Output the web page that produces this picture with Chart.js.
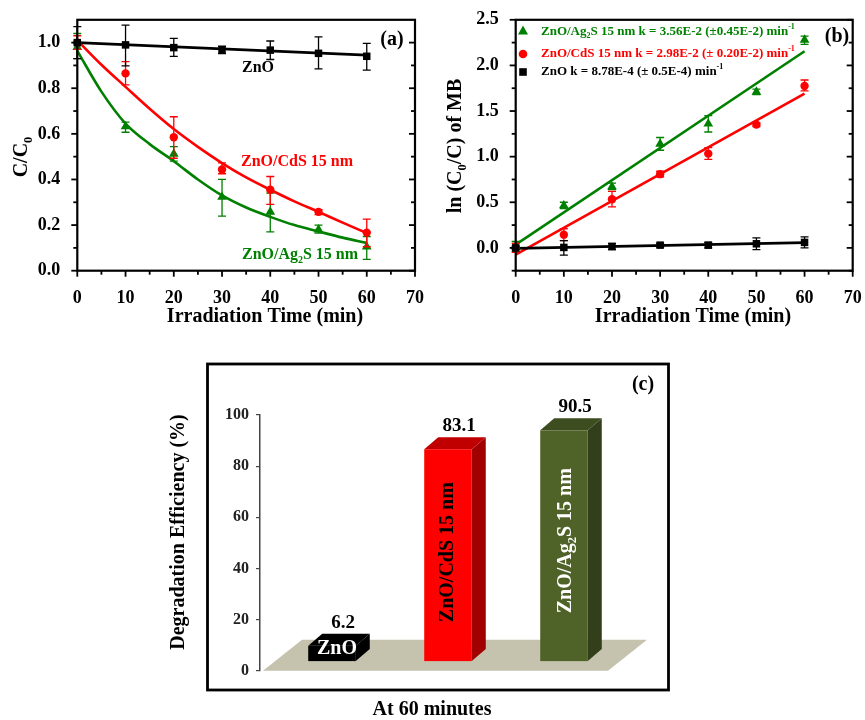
<!DOCTYPE html>
<html>
<head>
<meta charset="utf-8">
<title>MB photodegradation</title>
<script src="https://cdn.jsdelivr.net/npm/chart.js@4.4.1/dist/chart.umd.min.js"></script>
<style>
    html, body { margin: 0; padding: 0; background: #fff; }
    #wrap { position: relative; width: 865px; height: 720px; overflow: hidden; }
    #wrap canvas { position: absolute; left: 0; top: 0; }
</style>
</head>
<body>
<div id="wrap">
    <canvas id="chartA" width="865" height="720"></canvas>
    <canvas id="chartB" width="900" height="720"></canvas>
    <canvas id="chartC" width="865" height="720"></canvas>
</div>
<script>
// ============================================
// DATA
// ============================================

const timeMin = [0, 10, 20, 30, 40, 50, 60];

// (a) C/C0 with error bar ends
const ratioZnO = [1.0, 0.99, 0.978, 0.968, 0.967, 0.953, 0.94];
const ratioZnOLo = [0.93, 0.898, 0.94, 0.952, 0.926, 0.885, 0.879];
const ratioZnOHi = [1.07, 1.077, 1.019, 0.984, 1.007, 1.025, 0.997];

const ratioCdS = [1.0, 0.865, 0.585, 0.444, 0.355, 0.258, 0.167];
const ratioCdSLo = [0.97, 0.815, 0.493, 0.425, 0.291, 0.246, 0.105];
const ratioCdSHi = [1.03, 0.917, 0.675, 0.473, 0.413, 0.268, 0.226];

const ratioAg2S = [0.98, 0.632, 0.512, 0.323, 0.258, 0.18, 0.105];
const ratioAg2SLo = [0.93, 0.607, 0.48, 0.239, 0.17, 0.165, 0.05];
const ratioAg2SHi = [1.04, 0.651, 0.544, 0.40, 0.34, 0.20, 0.15];

// (a) fitted curves
const fitTimeA = [0, 5, 10, 15, 20, 25, 30, 35, 40, 45, 50, 55, 60];
const fitCdSA = [1.01, 0.903, 0.806, 0.71, 0.621, 0.543, 0.472, 0.409, 0.355, 0.304, 0.258, 0.211, 0.165];
const fitAg2SA = [0.964, 0.785, 0.645, 0.555, 0.48, 0.40, 0.33, 0.277, 0.236, 0.2, 0.172, 0.145, 0.122];
const fitLineTime = [0, 60];
const fitZnOA = [1.0, 0.945];

// (b) ln(C0/C) with error bar ends
const lnAg2S = [0.02, 0.464, 0.67, 1.14, 1.36, 1.71, 2.28];
const lnAg2SLo = [-0.04, 0.43, 0.64, 1.07, 1.27, 1.68, 2.23];
const lnAg2SHi = [0.07, 0.50, 0.71, 1.21, 1.45, 1.74, 2.32];

const lnCdS = [0.0, 0.145, 0.533, 0.808, 1.033, 1.351, 1.775];
const lnCdSLo = [-0.05, 0.08, 0.45, 0.78, 0.97, 1.33, 1.72];
const lnCdSHi = [0.05, 0.21, 0.62, 0.84, 1.10, 1.37, 1.84];

const lnZnO = [0.0, 0.005, 0.015, 0.03, 0.03, 0.045, 0.06];
const lnZnOLo = [-0.02, -0.08, -0.02, 0.01, 0.0, -0.02, 0.0];
const lnZnOHi = [0.02, 0.08, 0.05, 0.05, 0.06, 0.11, 0.12];

// (b) linear fits
const fitAg2SB = [0.036, 2.155];
const fitCdSB = [-0.075, 1.69];
const fitZnOB = [-0.005, 0.058];

// (c) degradation efficiency at 60 min
const sampleNames = ["ZnO", "ZnO/CdS 15 nm", "ZnO/Ag2S 15 nm"];
const efficiency = [6.2, 83.1, 90.5];

// tick labels
const xTicks = [0, 10, 20, 30, 40, 50, 60, 70];
const yTicksA = [0, 0.2, 0.4, 0.6, 0.8, 1.0];
const yTicksB = [0, 0.5, 1.0, 1.5, 2.0, 2.5];
const yTicksC = [0, 20, 40, 60, 80, 100];

// ============================================
// HELPERS
// ============================================

const SERIF = '"Liberation Serif", "Times New Roman", serif';
const GREEN = "#008000";
const RED = "#ff0000";

function boldFont(size) {
    return "bold " + size + "px " + SERIF;
}

function toPoints(xs, ys) {
    return xs.map((x, i) => ({ x: x, y: ys[i] }));
}

// parts: [text, 0 normal | 1 subscript | 2 superscript]
function richText(ctx, parts, x, y, size, align, color, rot) {
    ctx.save();
    ctx.translate(x, y);
    if (rot) ctx.rotate(rot);
    let total = 0;
    const widths = parts.map((p) => {
        ctx.font = boldFont(p[1] ? size * 0.62 : size);
        const w = ctx.measureText(p[0]).width;
        total += w;
        return w;
    });
    let cx = align === "center" ? -total / 2 : align === "right" ? -total : 0;
    ctx.textAlign = "left";
    ctx.textBaseline = "middle";
    ctx.fillStyle = color;
    parts.forEach((p, i) => {
        ctx.font = boldFont(p[1] ? size * 0.62 : size);
        const dy = p[1] === 1 ? size * 0.32 : p[1] === 2 ? -size * 0.36 : 0;
        ctx.fillText(p[0], cx, dy);
        cx += widths[i];
    });
    ctx.restore();
}

// error bars drawn just before each marker dataset
const errorBars = {
    id: "errorBars",
    beforeDatasetDraw(chart, args) {
        const ds = chart.data.datasets[args.index];
        if (!ds.errLo) return;
        const ctx = chart.ctx;
        const xs = chart.scales.x;
        const ys = chart.scales.y;
        ctx.save();
        ctx.strokeStyle = ds.borderColor;
        ctx.lineWidth = 1.3;
        ds.data.forEach((p, i) => {
            const px = xs.getPixelForValue(p.x);
            const lo = ys.getPixelForValue(ds.errLo[i]);
            const hi = ys.getPixelForValue(ds.errHi[i]);
            ctx.beginPath();
            ctx.moveTo(px, lo); ctx.lineTo(px, hi);
            ctx.moveTo(px - 4, lo); ctx.lineTo(px + 4, lo);
            ctx.moveTo(px - 4, hi); ctx.lineTo(px + 4, hi);
            ctx.stroke();
        });
        ctx.restore();
    }
};

// frame, inward/outward ticks and free text of panels (a) and (b)
const frameTicks = {
    id: "frameTicks",
    afterDraw(chart, args, opts) {
        const ctx = chart.ctx;
        const a = chart.chartArea;
        const xs = chart.scales.x;
        const ys = chart.scales.y;
        ctx.save();
        ctx.strokeStyle = "#000";
        ctx.lineWidth = 2.2;
        ctx.strokeRect(a.left, a.top, a.right - a.left, a.bottom - a.top);
        ctx.lineWidth = 1.8;
        const seg = (x1, y1, x2, y2) => {
            ctx.beginPath(); ctx.moveTo(x1, y1); ctx.lineTo(x2, y2); ctx.stroke();
        };
        opts.xMajor.forEach((v) => { const p = xs.getPixelForValue(v); seg(p, a.bottom, p, a.bottom + 6); });
        opts.xMinor.forEach((v) => { const p = xs.getPixelForValue(v); seg(p, a.bottom, p, a.bottom + 4); });
        opts.yMajor.forEach((v) => {
            const p = ys.getPixelForValue(v);
            seg(a.left - 6, p, a.left, p);
            seg(a.right - 6, p, a.right, p);
        });
        opts.yMinor.forEach((v) => {
            const p = ys.getPixelForValue(v);
            seg(a.left - 4, p, a.left, p);
            seg(a.right - 4, p, a.right, p);
        });

        (opts.markers || []).forEach((m) => {
            ctx.fillStyle = m.color;
            ctx.beginPath();
            if (m.shape === "triangle") {
                ctx.moveTo(m.x, m.y - 5.5); ctx.lineTo(m.x + 5, m.y + 3.5); ctx.lineTo(m.x - 5, m.y + 3.5);
            } else if (m.shape === "circle") {
                ctx.arc(m.x, m.y, 4.3, 0, Math.PI * 2);
            } else {
                ctx.rect(m.x - 3.8, m.y - 3.8, 7.6, 7.6);
            }
            ctx.closePath();
            ctx.fill();
        });

        opts.notes.forEach((n) => richText(ctx, n.parts, n.x, n.y, n.size, n.align, n.color, n.rot));
        ctx.restore();
    }
};

function axisScales(yMin, yMax, yTicks, digits) {
    return {
        x: {
            type: "linear", min: 0, max: 70,
            afterBuildTicks: (s) => { s.ticks = xTicks.map((v) => ({ value: v })); },
            afterFit: (s) => { s.height = 50; },
            ticks: { font: { family: SERIF, size: 18, weight: "bold" }, color: "#000", padding: 9, maxRotation: 0 },
            grid: { display: false },
            border: { display: false }
        },
        y: {
            type: "linear", min: yMin, max: yMax,
            afterBuildTicks: (s) => { s.ticks = yTicks.map((v) => ({ value: v })); },
            afterFit: (s) => { s.width = 60; },
            ticks: {
                font: { family: SERIF, size: 18, weight: "bold" }, color: "#000", padding: 9,
                callback: (v) => Number(v).toFixed(digits)
            },
            grid: { display: false },
            border: { display: false }
        }
    };
}

function markerSet(label, ys, lo, hi, color, style, radius) {
    return {
        label: label, data: toPoints(timeMin, ys), errLo: lo, errHi: hi,
        borderColor: color, backgroundColor: color, pointStyle: style,
        pointRadius: radius, pointBorderWidth: 0, showLine: false, clip: false, order: 1
    };
}

function fitSet(label, xs, ys, color, curved) {
    return {
        label: label, data: toPoints(xs, ys), borderColor: color, borderWidth: 2.6,
        pointRadius: 0, showLine: true, fill: false, clip: false, order: 2,
        cubicInterpolationMode: curved ? "monotone" : "default"
    };
}

const baseOptions = {
    responsive: false,
    animation: false,
    events: []
};

// ============================================
// PANEL (a)
// ============================================

new Chart(document.getElementById("chartA"), {
    type: "scatter",
    data: {
        datasets: [
            fitSet("ZnO fit", fitLineTime, fitZnOA, "#000", false),
            fitSet("ZnO/CdS fit", fitTimeA, fitCdSA, RED, true),
            fitSet("ZnO/Ag2S fit", fitTimeA, fitAg2SA, GREEN, true),
            markerSet("ZnO", ratioZnO, ratioZnOLo, ratioZnOHi, "#000", "rect", 5.3),
            markerSet("ZnO/CdS 15 nm", ratioCdS, ratioCdSLo, ratioCdSHi, RED, "circle", 4.2),
            markerSet("ZnO/Ag2S 15 nm", ratioAg2S, ratioAg2SLo, ratioAg2SHi, GREEN, "triangle", 5.6)
        ]
    },
    options: Object.assign({}, baseOptions, {
        layout: { padding: { left: 17.3, right: 450, top: 18.3, bottom: 399.3 } },
        scales: axisScales(0, 1.1, yTicksA, 1),
        plugins: {
            legend: { display: false },
            tooltip: { enabled: false },
            frameTicks: {
                xMajor: xTicks, xMinor: [5, 15, 25, 35, 45, 55, 65],
                yMajor: yTicksA, yMinor: [0.1, 0.3, 0.5, 0.7, 0.9],
                notes: [
                    { parts: [["(a)", 0]], x: 392, y: 40, size: 20, align: "center", color: "#000" },
                    { parts: [["ZnO", 0]], x: 258, y: 68, size: 16, align: "center", color: "#000" },
                    { parts: [["ZnO/CdS 15 nm", 0]], x: 297, y: 162, size: 16, align: "center", color: RED },
                    { parts: [["ZnO/Ag", 0], ["2", 1], ["S 15 nm", 0]], x: 300, y: 255, size: 16, align: "center", color: GREEN },
                    { parts: [["Irradiation Time (min)", 0]], x: 265, y: 317, size: 20, align: "center", color: "#000" },
                    { parts: [["C/C", 0], ["0", 1]], x: 22, y: 157, size: 20, align: "center", color: "#000", rot: -Math.PI / 2 }
                ]
            }
        }
    }),
    plugins: [errorBars, frameTicks]
});

// ============================================
// PANEL (b)  (canvas a bit wider than the page so the last tick label fits)
// ============================================

new Chart(document.getElementById("chartB"), {
    type: "scatter",
    data: {
        datasets: [
            fitSet("ZnO fit", fitLineTime, fitZnOB, "#000", false),
            fitSet("ZnO/CdS fit", fitLineTime, fitCdSB, RED, false),
            fitSet("ZnO/Ag2S fit", fitLineTime, fitAg2SB, GREEN, false),
            markerSet("ZnO", lnZnO, lnZnOLo, lnZnOHi, "#000", "rect", 5.3),
            markerSet("ZnO/CdS 15 nm", lnCdS, lnCdSLo, lnCdSHi, RED, "circle", 4.2),
            markerSet("ZnO/Ag2S 15 nm", lnAg2S, lnAg2SLo, lnAg2SHi, GREEN, "triangle", 5.6)
        ]
    },
    options: Object.assign({}, baseOptions, {
        layout: { padding: { left: 455.7, right: 47.3, top: 18.3, bottom: 399.3 } },
        scales: axisScales(-0.25, 2.5, yTicksB, 1),
        plugins: {
            legend: { display: false },
            tooltip: { enabled: false },
            frameTicks: {
                xMajor: xTicks, xMinor: [5, 15, 25, 35, 45, 55, 65],
                yMajor: yTicksB, yMinor: [-0.25, 0.25, 0.75, 1.25, 1.75, 2.25],
                markers: [
                    { shape: "triangle", x: 523, y: 31, color: GREEN },
                    { shape: "circle", x: 523, y: 54, color: RED },
                    { shape: "square", x: 523, y: 72, color: "#000" }
                ],
                notes: [
                    { parts: [["(b)", 0]], x: 837, y: 37, size: 20, align: "center", color: "#000" },
                    { parts: [["ZnO/Ag", 0], ["2", 1], ["S 15 nm k = 3.56E-2 (\u00b10.45E-2) min", 0], ["-1", 2]], x: 541, y: 32, size: 13, align: "left", color: GREEN },
                    { parts: [["ZnO/CdS 15 nm k = 2.98E-2 (\u00b1 0.20E-2) min", 0], ["-1", 2]], x: 541, y: 54, size: 13, align: "left", color: RED },
                    { parts: [["ZnO k = 8.78E-4 (\u00b1 0.5E-4) min", 0], ["-1", 2]], x: 541, y: 72, size: 13, align: "left", color: "#000" },
                    { parts: [["Irradiation Time (min)", 0]], x: 693, y: 317, size: 20, align: "center", color: "#000" },
                    { parts: [["ln (C", 0], ["0", 1], ["/C) of MB", 0]], x: 456, y: 146, size: 20, align: "center", color: "#000", rot: -Math.PI / 2 }
                ]
            }
        }
    }),
    plugins: [errorBars, frameTicks]
});

// ============================================
// PANEL (c) : 3D-looking bars
// ============================================

const frontColors = ["#000000", "#ff0000", "#4f6228"];
const topColors = ["#000000", "#c00000", "#3e4d1f"];
const sideColors = ["#000000", "#a00000", "#333f1a"];

const DEPTH = { fx: 14, fy: -9, dx: 14, dy: -12, floorX: 39, floorY: -31 };

const bars3d = {
    id: "bars3d",
    beforeDatasetsDraw(chart) {
        const ctx = chart.ctx;
        const a = chart.chartArea;
        const base = chart.scales.y.getPixelForValue(0);
        ctx.save();
        ctx.fillStyle = "#c5c2ae";
        ctx.beginPath();
        ctx.moveTo(a.left + 3, base);
        ctx.lineTo(a.right, base);
        ctx.lineTo(a.right + DEPTH.floorX, base + DEPTH.floorY);
        ctx.lineTo(a.left + 3 + DEPTH.floorX, base + DEPTH.floorY);
        ctx.closePath();
        ctx.fill();
        ctx.restore();
    },
    afterDatasetsDraw(chart) {
        const ctx = chart.ctx;
        const meta = chart.getDatasetMeta(0);
        ctx.save();
        meta.data.forEach((el, i) => {
            const p = el.getProps(["x", "y", "base", "width"], true);
            const l = p.x - p.width / 2 + DEPTH.fx;
            const r = p.x + p.width / 2 + DEPTH.fx;
            const t = p.y + DEPTH.fy;
            const b = p.base + DEPTH.fy;
            // side
            ctx.fillStyle = sideColors[i];
            ctx.beginPath();
            ctx.moveTo(r, t); ctx.lineTo(r + DEPTH.dx, t + DEPTH.dy);
            ctx.lineTo(r + DEPTH.dx, b + DEPTH.dy); ctx.lineTo(r, b);
            ctx.closePath(); ctx.fill();
            // top
            ctx.fillStyle = topColors[i];
            ctx.beginPath();
            ctx.moveTo(l, t); ctx.lineTo(r, t);
            ctx.lineTo(r + DEPTH.dx, t + DEPTH.dy); ctx.lineTo(l + DEPTH.dx, t + DEPTH.dy);
            ctx.closePath(); ctx.fill();
            // front
            ctx.fillStyle = frontColors[i];
            ctx.fillRect(l, t, r - l, b - t);

            const cx = (l + r) / 2;
            ctx.font = boldFont(19);
            ctx.fillStyle = "#000";
            ctx.textAlign = "center";
            ctx.textBaseline = "middle";
            ctx.fillText(String(chart.data.datasets[0].data[i]), cx + 11, t - 23);
        });

        // names written on the bars
        const pts = meta.data.map((el) => el.getProps(["x", "y", "base"], true));
        const c0 = pts[0].x + DEPTH.fx;
        richText(ctx, [["ZnO", 0]], c0 + 5, (pts[0].y + pts[0].base) / 2 + DEPTH.fy - 5, 20, "center", "#fff");
        const c1 = pts[1].x + DEPTH.fx;
        richText(ctx, [["ZnO/CdS 15 nm", 0]], c1, (pts[1].y + pts[1].base) / 2 + DEPTH.fy - 3, 20, "center", "#000", -Math.PI / 2);
        const c2 = pts[2].x + DEPTH.fx;
        richText(ctx, [["ZnO/Ag", 0], ["2", 1], ["S 15 nm", 0]], c2 + 2, (pts[2].y + pts[2].base) / 2 + DEPTH.fy - 5, 20, "center", "#fff", -Math.PI / 2);
        ctx.restore();
    },
    afterDraw(chart) {
        const ctx = chart.ctx;
        ctx.save();
        ctx.strokeStyle = "#000";
        ctx.lineWidth = 2.8;
        ctx.strokeRect(207.5, 364, 461, 326);
        richText(ctx, [["(c)", 0]], 643, 385, 20, "center", "#000");
        richText(ctx, [["Degradation Efficiency (%)", 0]], 179, 532, 20, "center", "#000", -Math.PI / 2);
        richText(ctx, [["At 60 minutes", 0]], 432, 710, 20, "center", "#000");
        ctx.restore();
    }
};

new Chart(document.getElementById("chartC"), {
    type: "bar",
    data: {
        labels: sampleNames,
        datasets: [
            {
                label: "Degradation efficiency (%)",
                data: efficiency,
                backgroundColor: "rgba(0,0,0,0)",
                borderWidth: 0,
                barPercentage: 0.41,
                categoryPercentage: 1
            }
        ]
    },
    options: Object.assign({}, baseOptions, {
        layout: { padding: { left: 200, right: 257, top: 415, bottom: 49.3 } },
        scales: {
            x: { display: false },
            y: {
                min: 0, max: 100,
                afterBuildTicks: (s) => { s.ticks = yTicksC.map((v) => ({ value: v })); },
                afterFit: (s) => { s.width = 60; },
                ticks: { font: { family: SERIF, size: 16, weight: "bold" }, color: "#222", padding: 7 },
                grid: { display: true, drawOnChartArea: false, drawTicks: true, tickLength: 4, color: "#444", lineWidth: 1.2 },
                border: { display: true, color: "#444", width: 1.5 }
            }
        },
        plugins: {
            legend: { display: false },
            tooltip: { enabled: false }
        }
    }),
    plugins: [bars3d]
});
</script>
</body>
</html>
